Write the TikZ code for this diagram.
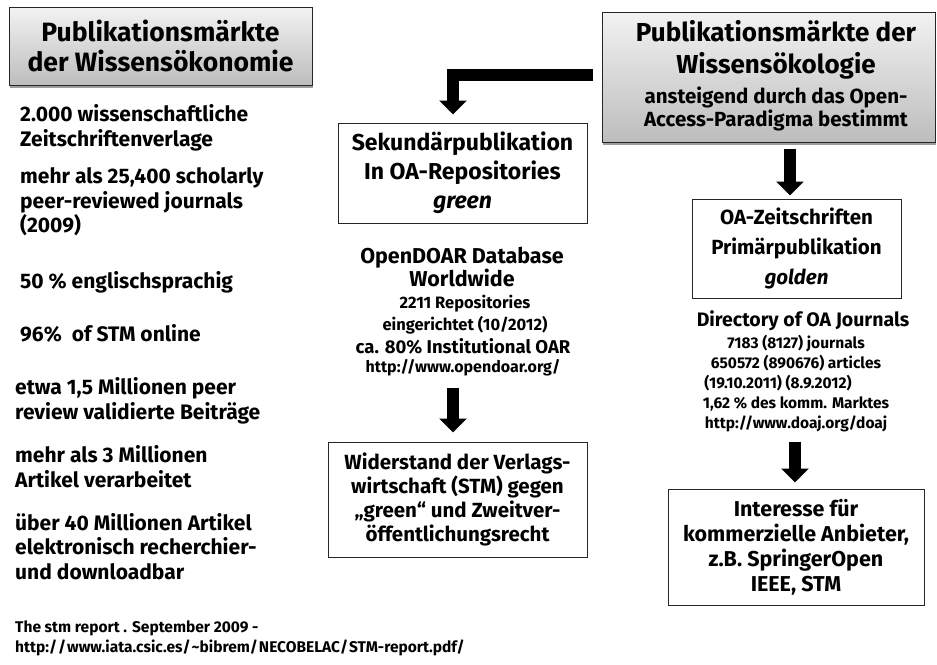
\documentclass[tikz,border=0pt]{standalone}
\usepackage{fontspec}
\setmainfont{Fira Sans}
\usetikzlibrary{arrows.meta,shadows}
\definecolor{gtop}{HTML}{F2F2F2}
\definecolor{gbot}{HTML}{BDBDBD}
\begin{document}
\begin{tikzpicture}[x=1pt,y=-1pt,
  every node/.style={inner sep=0pt, font=\bfseries},
  graybox/.style={draw=black!85, line width=1pt, top color=gtop, bottom color=gbot,
    drop shadow={shadow xshift=1pt, shadow yshift=-3pt, fill=black!55, opacity=0.7}},
  whitebox/.style={draw=black!85, line width=1pt, fill=white, align=center},
  txt/.style={align=left, anchor=base west},
  ctxt/.style={align=center, anchor=base},
  bigarrow/.style={draw=black, line width=12pt, line join=miter,
    -{Triangle[width=27pt,length=14pt]}},
  f20/.style={font=\bfseries\fontsize{21}{24.5}\selectfont}]
\useasboundingbox (0,0) rectangle (937,664);

% top boxes (anchor base = last line)
\node[graybox, minimum width=303pt, minimum height=78pt, align=center,
  font=\bfseries\fontsize{26.5}{30}\selectfont] (L) at (160.5,46)
  {Publikationsmärkte\\der Wissensökonomie};
\node[graybox, minimum width=333pt, minimum height=130pt] (R) at (768.5,77) {};
\node[ctxt, font=\bfseries\fontsize{26}{32}\selectfont] (Rt) at (776,73.5)
  {Publikationsmärkte der\\Wissensökologie};
\node[ctxt, font=\bfseries\fontsize{20.5}{23}\selectfont] (Rs) at (776,126.5)
  {ansteigend durch das Open-\\Access-Paradigma bestimmt};

% left column
\node[txt, f20] (l1) at (20,146) {2.000 wissenschaftliche\\Zeitschriftenverlage};
\node[txt, f20] (l2) at (20,232.5) {mehr als 25,400 scholarly\\peer-reviewed journals\\(2009)};
\node[txt, f20] (l3) at (20,288.5) {50 \% englischsprachig};
\node[txt, f20] (l4) at (20,341.5) {96\%\ \ of STM online};
\node[txt, f20] (l5) at (15,419) {etwa 1,5 Millionen peer\\review validierte Beiträge};
\node[txt, f20] (l6) at (15,487) {mehr als 3 Millionen\\Artikel verarbeitet};
\node[txt, f20] (l7) at (15,579) {über 40 Millionen Artikel\\elektronisch recherchier-\\und downloadbar};
\node[txt, font=\bfseries\fontsize{15.5}{20}\selectfont] (foot) at (15,652)
  {The stm report . September 2009 -\\http:/\kern1pt/\kern1pt www.iata.csic.es/\kern1pt\textasciitilde bibrem/\kern1pt NECOBELAC/\kern1pt STM-report.pdf/};

% middle column
\node[whitebox, minimum width=249pt, minimum height=100pt,
  font=\bfseries\fontsize{23}{29}\selectfont] (S) at (462.5,173)
  {Sekundärpublikation\\In OA-Repositories\\\textit{green}};
\node[ctxt, font=\bfseries\fontsize{21.5}{23}\selectfont] (od1) at (462,286.5) {OpenDOAR Database\\Worldwide};
\node[ctxt, font=\bfseries\fontsize{16.5}{22}\selectfont] (od2) at (465,330)
  {2211 Repositories\\eingerichtet (10/2012)};
\node[ctxt, font=\bfseries\fontsize{18.5}{22}\selectfont] (od3) at (463,353) {ca. 80\% Institutional OAR};
\node[ctxt, font=\bfseries\fontsize{16}{20}\selectfont] (odurl) at (463,372.5) {http://www.opendoar.org/};
\node[whitebox, minimum width=259pt, minimum height=115pt,
  font=\bfseries\fontsize{20.5}{24}\selectfont] (W) at (457.5,499.5)
  {Widerstand der Verlags-\\wirtschaft (STM) gegen\\„green“ und Zweitver-\\öffentlichungsrecht};

% right column
\node[whitebox, minimum width=209pt, minimum height=99pt,
  font=\bfseries\fontsize{20.5}{30}\selectfont] (OA) at (796.5,248.5)
  {OA-Zeitschriften\\Primärpublikation\\\textit{golden}};
\node[ctxt, font=\bfseries\fontsize{19.5}{22}\selectfont] (dj1) at (803,326) {Directory of OA Journals};
\node[ctxt, font=\bfseries\fontsize{15.5}{20}\selectfont] (dj2) at (796,428.5)
  {7183 (8127) journals\\650572 (890676) articles\\(19.10.2011) (8.9.2012)\hbox to 36pt{}\\1,62 \% des komm. Marktes\\http://www.doaj.org/doaj};
\node[whitebox, minimum width=256pt, minimum height=116pt,
  font=\bfseries\fontsize{21.5}{25}\selectfont] (I) at (796,547)
  {Interesse für\\kommerzielle Anbieter,\\z.B. SpringerOpen\\IEEE, STM};

% arrows
\draw[bigarrow, line width=12pt] ([shift={(-9,-2)}]R.west) -| ([shift={(-9.5,-8)}]S.north);
\draw[bigarrow] ([shift={(-4.5,-54)}]W.north) -- ([shift={(-4.5,-9)}]W.north);
\draw[bigarrow] ([shift={(21.5,6)}]R.south) -- ([shift={(-6.5,-3)}]OA.north);
\draw[bigarrow] ([shift={(-1,-47)}]I.north) -- ([shift={(-1,-6)}]I.north);
\end{tikzpicture}
\end{document}
